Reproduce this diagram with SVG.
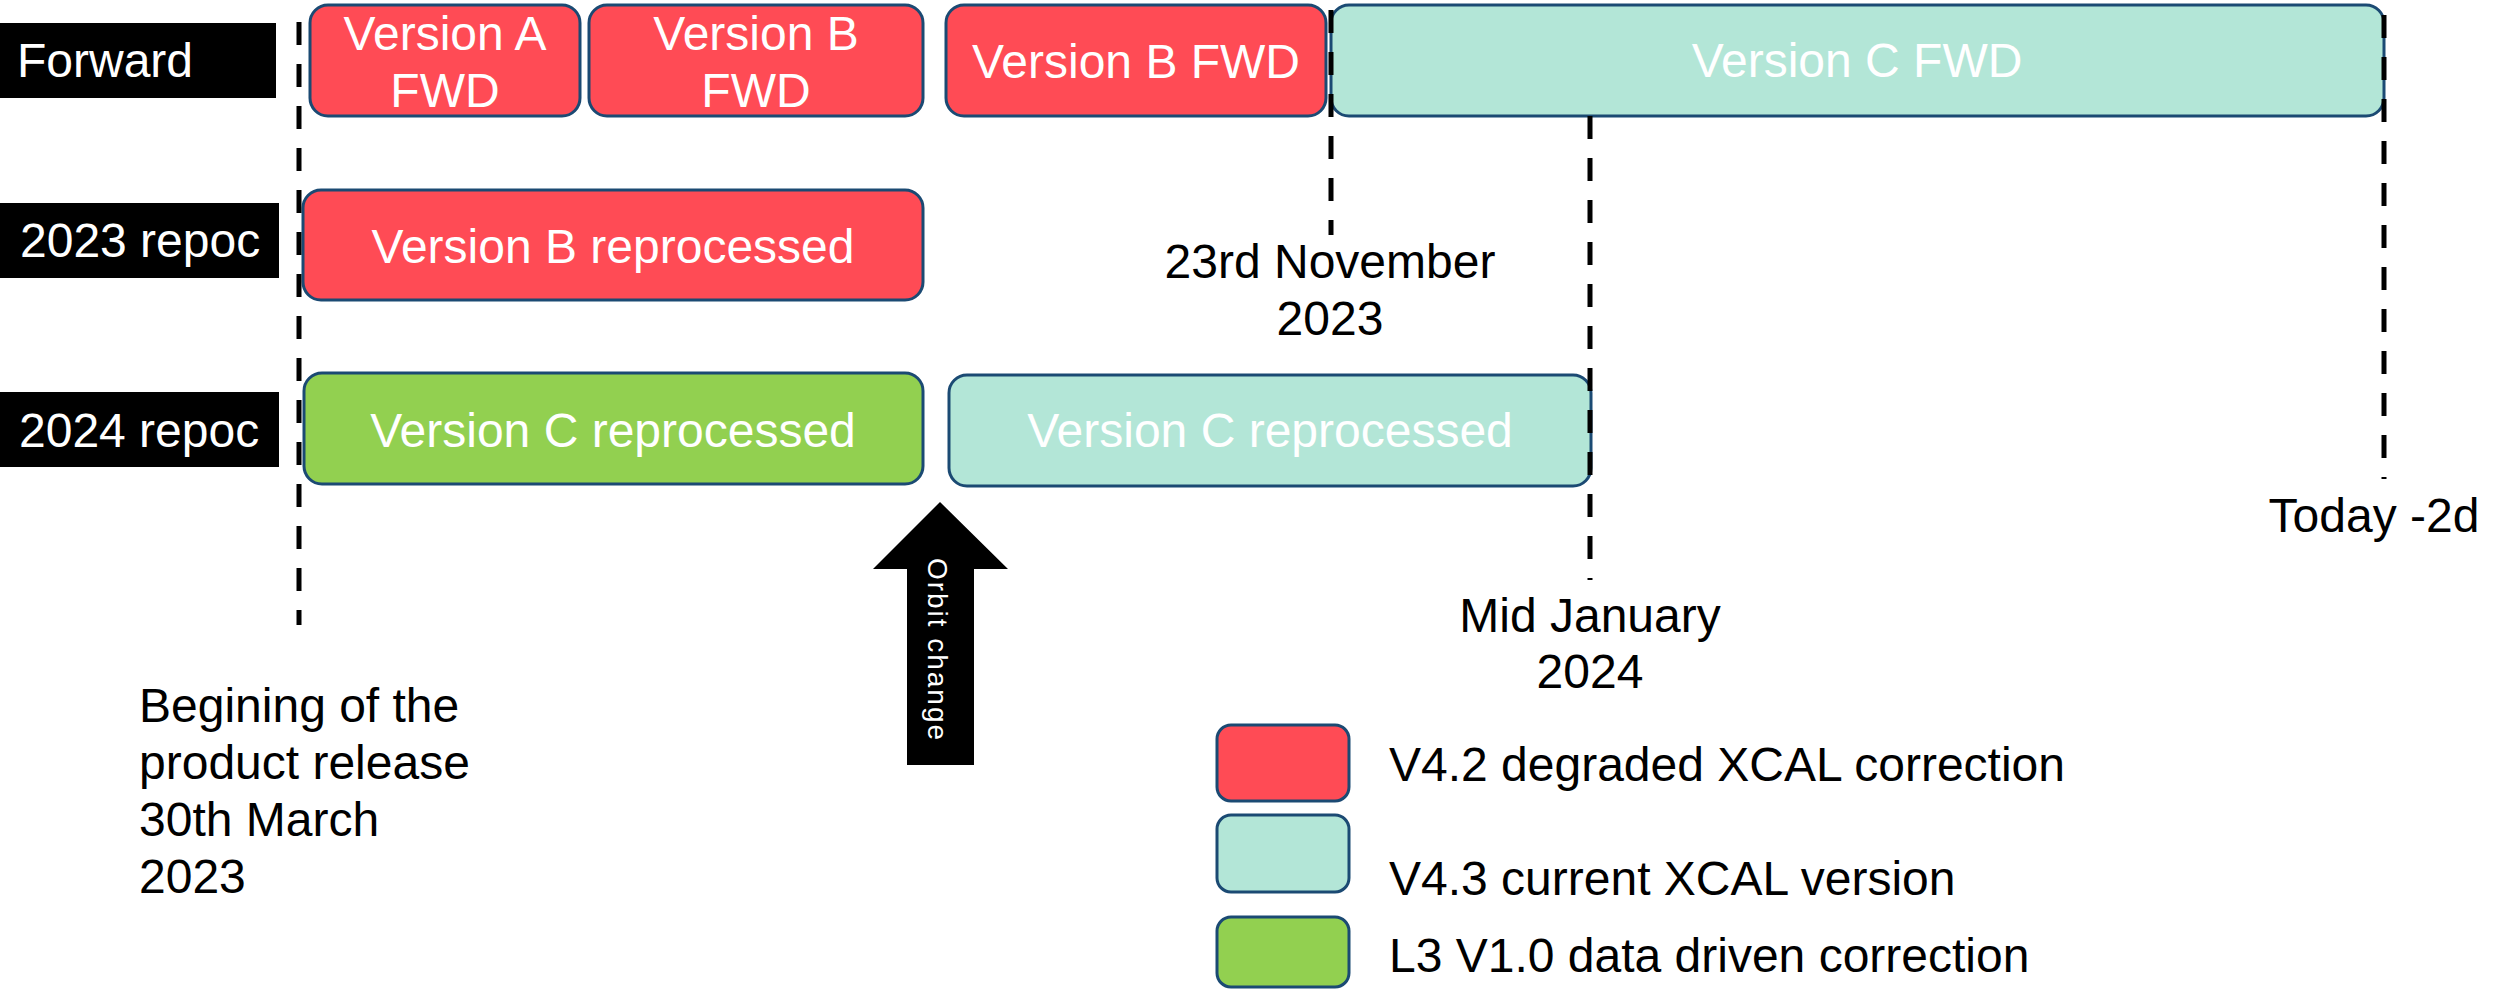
<svg xmlns="http://www.w3.org/2000/svg" width="2509" height="989" viewBox="0 0 2509 989">
<style>
text{font-family:"Liberation Sans",Arial,sans-serif;font-size:48px}
.w{fill:#ffffff}
.k{fill:#000000}
.m{text-anchor:middle}
.red{fill:#FF4B55;stroke:#1B4A73;stroke-width:3}
.teal{fill:#B3E6D7;stroke:#1B4A73;stroke-width:3}
.green{fill:#92D050;stroke:#1B4A73;stroke-width:3}
.lbl{fill:#000000}
.dash{stroke:#000000;stroke-width:5;stroke-dasharray:23 19;fill:none}
</style>
<rect width="2509" height="989" fill="#ffffff"/>
<g id="label-forward"><rect class="lbl" x="0" y="23" width="276" height="75"/><text class="w" x="17" y="77">Forward</text></g>
<g id="label-2023"><rect class="lbl" x="0" y="203" width="279" height="75"/><text class="w" x="20" y="257">2023 repoc</text></g>
<g id="label-2024"><rect class="lbl" x="0" y="392" width="279" height="75"/><text class="w" x="19" y="447">2024 repoc</text></g>

<g id="verA-fwd"><rect class="red" x="310" y="5" width="270" height="111" rx="18"/><text class="w m" x="445" y="50">Version A</text><text class="w m" x="445" y="107">FWD</text></g>
<g id="verB-fwd1"><rect class="red" x="589" y="5" width="334" height="111" rx="18"/><text class="w m" x="756" y="50">Version B</text><text class="w m" x="756" y="107">FWD</text></g>
<g id="verB-fwd2"><rect class="red" x="946" y="5" width="380" height="111" rx="18"/><text class="w m" x="1136" y="78">Version B FWD</text></g>
<g id="verC-fwd"><rect class="teal" x="1331" y="5" width="1053" height="111" rx="18"/><text class="w m" x="1857" y="77">Version C FWD</text></g>
<g id="verB-repro"><rect class="red" x="303" y="190" width="620" height="110" rx="18"/><text class="w m" x="613" y="263">Version B reprocessed</text></g>
<g id="verC-repro-green"><rect class="green" x="304" y="373" width="619" height="111" rx="18"/><text class="w m" x="613" y="447">Version C reprocessed</text></g>
<g id="verC-repro-teal"><rect class="teal" x="949" y="375" width="642" height="111" rx="18"/><text class="w m" x="1270" y="447">Version C reprocessed</text></g>

<g id="orbit-change"><polygon points="940,502 1008,569 974,569 974,765 907,765 907,569 873,569" fill="#000000"/><text class="w m" transform="translate(928,649) rotate(90)" x="0" y="0" style="font-size:28px" textLength="182" lengthAdjust="spacing">Orbit change</text></g>

<g id="legend-red"><rect class="red" x="1217" y="725" width="132" height="76" rx="14"/><text class="k" x="1389" y="781">V4.2 degraded XCAL correction</text></g>
<g id="legend-teal"><rect class="teal" x="1217" y="815" width="132" height="77" rx="14"/><text class="k" x="1389" y="895">V4.3 current XCAL version</text></g>
<g id="legend-green"><rect class="green" x="1217" y="917" width="132" height="70" rx="14"/><text class="k" x="1389" y="972">L3 V1.0 data driven correction</text></g>

<g id="connectors">
<line class="dash" x1="299" y1="22" x2="299" y2="625"/>
<line class="dash" x1="1331" y1="10" x2="1331" y2="235"/>
<line class="dash" x1="1590" y1="116" x2="1590" y2="580"/>
<line class="dash" x1="2384" y1="15" x2="2384" y2="479"/>
</g>

<g id="note-begin"><text class="k" x="139" y="722">Begining of the</text><text class="k" x="139" y="779">product release</text><text class="k" x="139" y="836">30th March</text><text class="k" x="139" y="893">2023</text></g>
<g id="note-nov"><text class="k m" x="1330" y="278">23rd November</text><text class="k m" x="1330" y="335">2023</text></g>
<g id="note-jan"><text class="k m" x="1590" y="632">Mid January</text><text class="k m" x="1590" y="688">2024</text></g>
<g id="note-today"><text class="k m" x="2374" y="532">Today -2d</text></g>
</svg>
